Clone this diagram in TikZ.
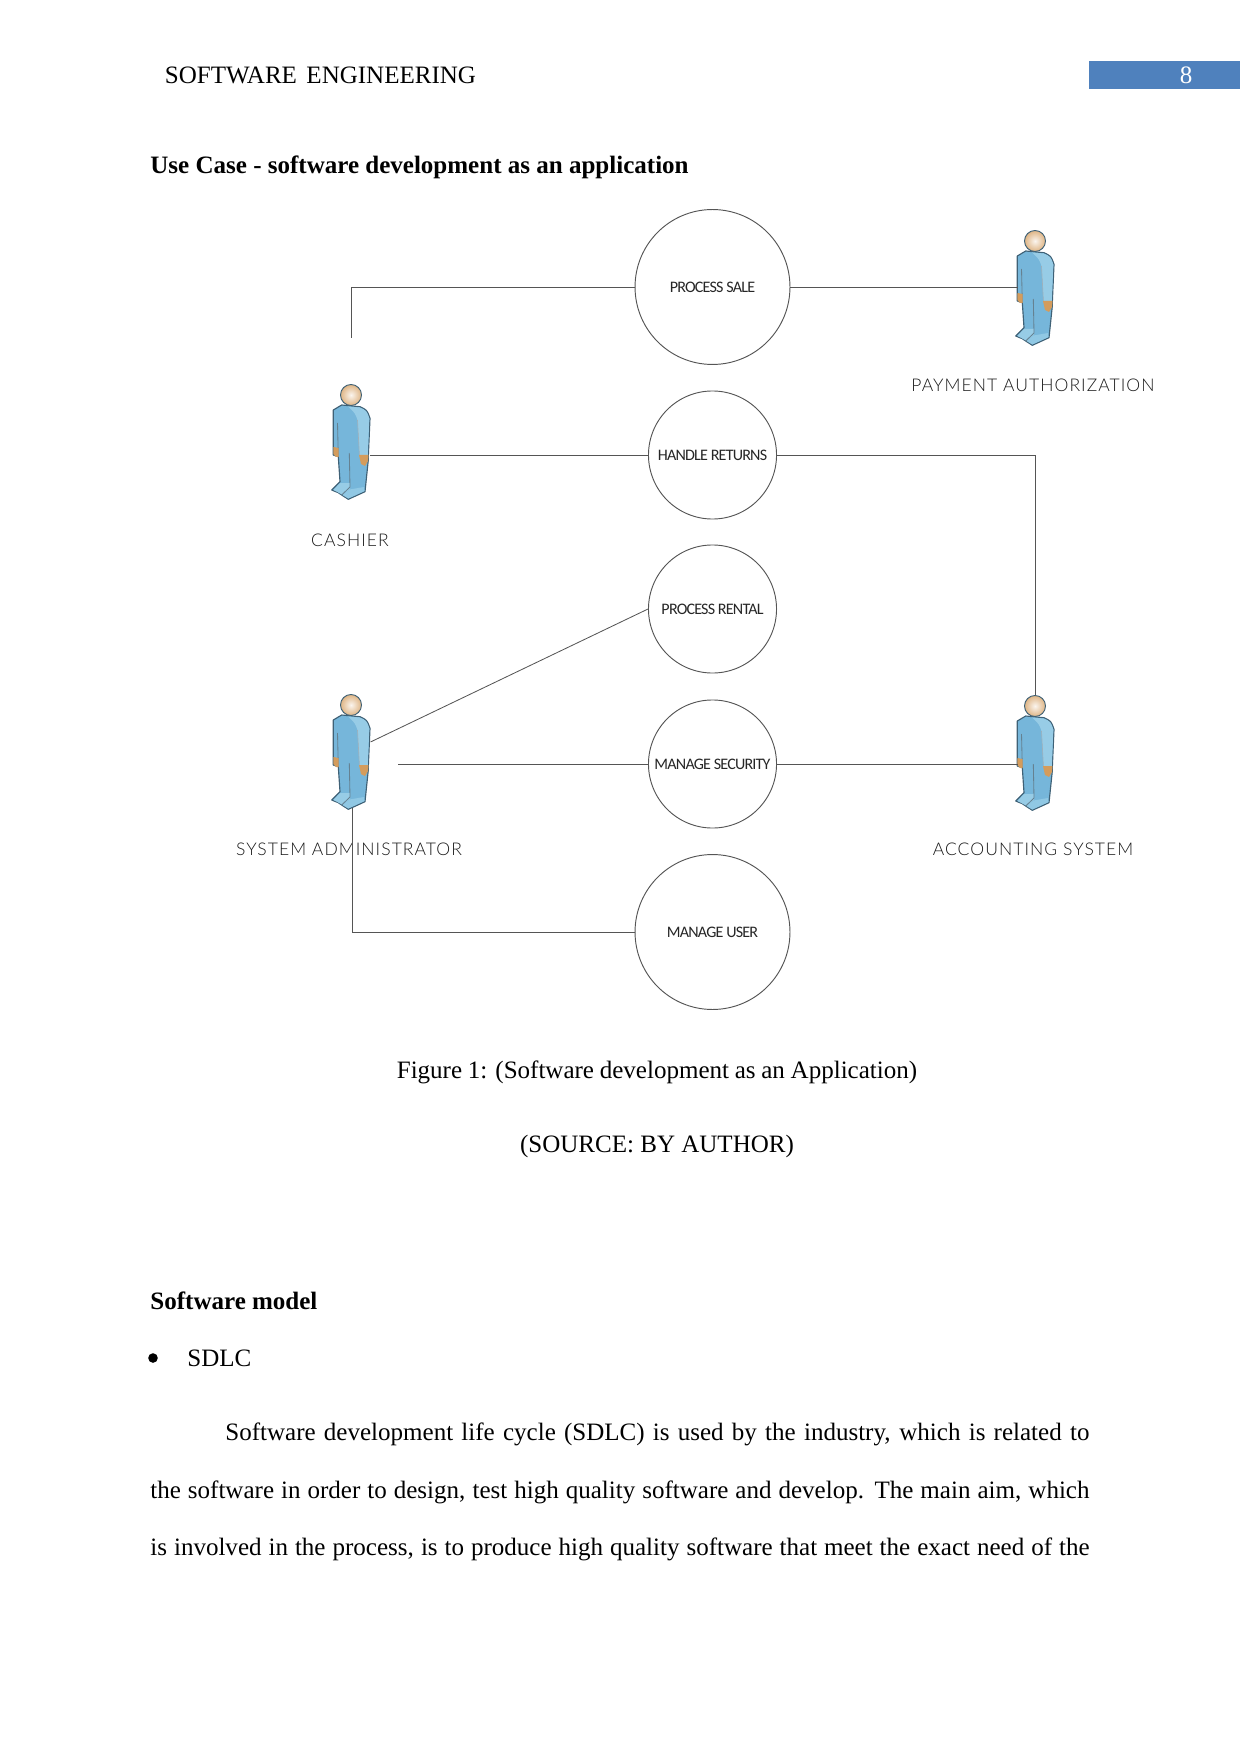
\documentclass[tikz,border=0pt]{standalone}
\usepackage{fontspec}
\setmainfont{Liberation Serif}
\newfontfamily\actorfont[LetterSpace=6]{Lato Light}
\newfontfamily\casefont[LetterSpace=-5]{Carlito}
\definecolor{bannerblue}{HTML}{4F81BD}
\definecolor{suitblue}{HTML}{76B6DA}
\definecolor{armblue}{HTML}{97CCE6}
\definecolor{suitline}{HTML}{3F6176}
\definecolor{skin}{HTML}{D49C5C}
\definecolor{wire}{HTML}{555555}
\tikzset{
    usecase/.style={circle, draw=wire, line width=0.45pt, inner sep=0pt, font=\casefont\fontsize{7.7}{9}\selectfont, text=black!85},
    actorlabel/.style={font=\actorfont\fontsize{8.4}{10}\selectfont, text=black!90},
    wireline/.style={draw=wire, line width=0.4pt},
    bodytext/.style={anchor=base west, inner sep=0pt, font=\fontsize{12}{14}\selectfont},
    actor/.pic={
        \coordinate (-top) at (0,-11);
        \coordinate (-left) at (-17.5,0);
        \coordinate (-right) at (19,0);
        \coordinate (-arm) at (19.5,37);
        \coordinate (-foot) at (1,103);
        % suit
        \draw[suitline, line width=0.55pt, fill=suitblue, line join=round]
            (-17.7,15) -- (-9.3,10) -- (9,11.7) .. controls (16,15) .. (19,23.3)
            -- (17.3,61.7) -- (17.3,65) -- (14,96.7) -- (-2.7,104.3) -- (-9.3,100)
            -- (-12.7,97.7) -- (-19.3,95) -- (-11,86.7) -- (-12.7,61.7) -- (-17.7,60) -- cycle;
        % sleeve and feet highlights
        \fill[armblue] (-3,11.5) -- (8.5,12.5) .. controls (15.5,15.5) .. (18.3,23.5)
            -- (16.8,60) -- (8.5,60) -- (6.5,25) .. controls (4,18) .. cycle;
        \fill[armblue] (-1,88) -- (-1,94) -- (-9,99.5) -- (-17.5,95) -- (-11,88) -- cycle;
        \fill[armblue!80!suitblue] (-1.5,94.5) -- (13,92) -- (13.5,96) -- (-2.7,103.5) -- (-8.5,100) -- cycle;
        % folds
        \draw[suitline!80, line width=0.4pt] (-13.5,28) -- (-12.7,61.7);
        \draw[suitline!80, line width=0.4pt] (-1.7,58) -- (-1,92) -- (-9.3,100);
        \draw[suitline!50, line width=0.3pt] (6.5,25) -- (8.5,62);
        % hands
        \fill[skin] (-17.5,52) -- (-12.5,53) -- (-12.5,62) -- (-15,62) -- (-17.7,59) -- cycle;
        \fill[skin] (8,60) -- (17.5,60) -- (17,66) -- (14,71) -- (10,69) -- cycle;
        % head
        \draw[suitline, line width=0.45pt, inner color=white!90!skin, outer color=skin!75!white] (0,0) circle (10.5);
    }
}
\begin{document}
\begin{tikzpicture}[x=0.4795pt, y=-0.4795pt]
    \useasboundingbox (0,0) rectangle (1241,1754);

    % page header
    \node[bodytext] (header) at (164.5,84) {\hbox to 149.2pt{SOFTWARE ENGINEERING}};
    \node[fill=bannerblue, minimum width=72pt, minimum height=13.4pt, inner sep=0pt, anchor=north west] (banner) at (1089,61) {};
    \node[text=white, font=\fontsize{12}{14}\selectfont, inner sep=0pt] (pagenum) at (1186,75) {8};
    \node[bodytext, font=\bfseries\fontsize{12}{14}\selectfont] (title) at (150,174) {Use Case - software development as an application};

    % use cases
    \node[usecase, minimum size=74.3pt] (sale) at (712.5,287) {PROCESS SALE};
    \node[usecase, minimum size=61.4pt] (returns) at (712.5,455) {HANDLE RETURNS};
    \node[usecase, minimum size=61.4pt] (rental) at (712.5,609) {PROCESS RENTAL};
    \node[usecase, minimum size=61.4pt] (security) at (712.5,764) {MANAGE SECURITY};
    \node[usecase, minimum size=74.3pt] (user) at (712.5,932) {MANAGE USER};

    % actors
    \pic (payment) at (1035,241) {actor};
    \pic (cashier) at (351,395) {actor};
    \pic (admin) at (351,705) {actor};
    \pic (accounting) at (1035,706) {actor};
    \node[actorlabel] (paymentlabel) at (1033,385) {PAYMENT AUTHORIZATION};
    \node[actorlabel] (cashierlabel) at (350,540) {CASHIER};
    \node[actorlabel] (adminlabel) at (349,849) {SYSTEM ADMINISTRATOR};
    \node[actorlabel] (accountinglabel) at (1033,849) {ACCOUNTING SYSTEM};

    % connectors
    \coordinate (cashierstub) at (351.5,338);
    \coordinate (adminstub) at (398,764);
    \draw[wireline] (sale.west) -| (cashierstub);
    \draw[wireline] (sale.east) -- (sale.east -| payment-left);
    \draw[wireline] (returns.west) -- (returns.west -| cashier-right);
    \draw[wireline] (returns.east) -| (accounting-top);
    \draw[wireline] (rental.west) -- (admin-arm);
    \draw[wireline] (security.west) -- (adminstub);
    \draw[wireline] (security.east) -- (security.east -| accounting-left);
    \draw[wireline] (admin-foot) |- (user.west);

    % caption and body text
    \node[inner sep=0pt, anchor=base, font=\fontsize{12}{14}\selectfont] (caption) at (657,1078.5) {\hbox to 249.5pt{Figure 1: (Software development as an Application)}};
    \node[inner sep=0pt, anchor=base, font=\fontsize{12}{14}\selectfont] (source) at (657,1152.5) {(SOURCE: BY AUTHOR)};
    \node[bodytext, font=\bfseries\fontsize{12}{14}\selectfont] (model) at (150,1309) {Software model};
    \node[circle, fill=black, inner sep=0pt, minimum size=4.6pt] (bullet) at (153,1358) {};
    \node[bodytext] (sdlc) at (187,1366) {SDLC};
    \node[bodytext] (lineone) at (225,1440.5) {\hbox to 414.3pt{Software development life cycle (SDLC) is used by the industry, which is related to}};
    \node[bodytext] (linetwo) at (150,1498.5) {\hbox to 450.3pt{the software in order to design, test high quality software and develop. The main aim, which}};
    \node[bodytext] (linethree) at (150,1555.5) {\hbox to 450.3pt{is involved in the process, is to produce high quality software that meet the exact need of the}};
\end{tikzpicture}
\end{document}
